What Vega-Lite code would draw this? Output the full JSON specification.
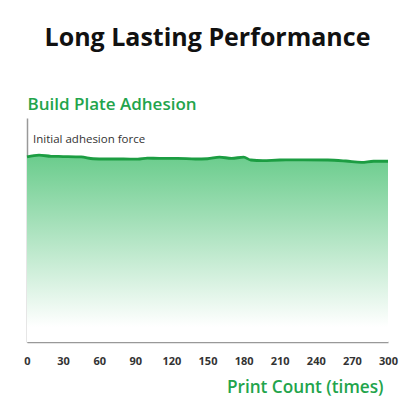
{
  "$schema": "https://vega.github.io/schema/vega-lite/v6.json",
  "width": 361,
  "height": 224,
  "autosize": "none",
  "padding": {"left": 27, "top": 118, "right": 28, "bottom": 74},
  "background": "white",
  "title": {
    "text": "Long Lasting Performance",
    "font": "Open Sans",
    "fontSize": 25,
    "fontWeight": "bold",
    "color": "#111111",
    "anchor": "middle",
    "offset": 44
  },
  "config": {
    "view": {"stroke": null},
    "font": "Open Sans"
  },
  "data": {
    "values": [
      {"count": 0, "adhesion": 82.6},
      {"count": 10, "adhesion": 83.4},
      {"count": 20, "adhesion": 82.9},
      {"count": 30, "adhesion": 82.8},
      {"count": 45, "adhesion": 82.6},
      {"count": 55, "adhesion": 81.8},
      {"count": 65, "adhesion": 81.7},
      {"count": 80, "adhesion": 81.7},
      {"count": 92, "adhesion": 81.6},
      {"count": 100, "adhesion": 82.05},
      {"count": 110, "adhesion": 82.0},
      {"count": 125, "adhesion": 82.0},
      {"count": 140, "adhesion": 81.7},
      {"count": 150, "adhesion": 81.8},
      {"count": 160, "adhesion": 82.5},
      {"count": 170, "adhesion": 82.0},
      {"count": 180, "adhesion": 82.5},
      {"count": 186, "adhesion": 81.25},
      {"count": 196, "adhesion": 81.0},
      {"count": 210, "adhesion": 81.25},
      {"count": 230, "adhesion": 81.3},
      {"count": 250, "adhesion": 81.25},
      {"count": 265, "adhesion": 80.8},
      {"count": 278, "adhesion": 80.2},
      {"count": 288, "adhesion": 80.7},
      {"count": 300, "adhesion": 80.7}
    ]
  },
  "encoding": {
    "x": {
      "field": "count",
      "type": "quantitative",
      "scale": {"domain": [0, 300], "nice": false},
      "axis": {
        "values": [0, 30, 60, 90, 120, 150, 180, 210, 240, 270, 300],
        "ticks": false,
        "grid": false,
        "domainColor": "#999999",
        "domainWidth": 1.5,
        "labelFlush": false,
        "labelPadding": 13,
        "labelFont": "Open Sans",
        "labelFontSize": 11,
        "labelFontWeight": "bold",
        "labelColor": "#333333",
        "title": "Print Count (times)",
        "titleFont": "Open Sans",
        "titleFontSize": 17.2,
        "titleFontWeight": 600,
        "titleColor": "#22a44b",
        "titleX": 356,
        "titleY": 50,
        "titleAlign": "right",
        "titleBaseline": "alphabetic",
        "titleAnchor": null
      }
    },
    "y": {
      "field": "adhesion",
      "type": "quantitative",
      "scale": {"domain": [0, 100], "nice": false},
      "axis": {
        "ticks": false,
        "labels": false,
        "grid": false,
        "domainColor": "#999999",
        "domainWidth": 1.5,
        "title": "Build Plate Adhesion",
        "titleFont": "Open Sans",
        "titleFontSize": 17,
        "titleFontWeight": 600,
        "titleColor": "#22a44b",
        "titleAngle": 0,
        "titleX": 0,
        "titleY": -9,
        "titleAlign": "left",
        "titleBaseline": "alphabetic"
      }
    }
  },
  "layer": [
    {
      "mark": {
        "type": "area",
        "interpolate": "monotone",
        "fill": {
          "gradient": "linear",
          "x1": 0, "y1": 0, "x2": 0, "y2": 1,
          "stops": [
            {"offset": 0, "color": "#6acc8c"},
            {"offset": 0.92, "color": "#ffffff"},
            {"offset": 1, "color": "#ffffff"}
          ]
        }
      }
    },
    {
      "mark": {
        "type": "line",
        "interpolate": "monotone",
        "color": "#1c9d42",
        "strokeWidth": 2.8
      }
    },
    {
      "data": {"values": [{"count": 0, "adhesion": 90.2, "label": "Initial adhesion force"}]},
      "mark": {
        "type": "text",
        "align": "left",
        "baseline": "middle",
        "dx": 6,
        "font": "Open Sans",
        "fontSize": 11.5,
        "color": "#333333"
      },
      "encoding": {
        "text": {"field": "label", "type": "nominal"}
      }
    }
  ]
}
